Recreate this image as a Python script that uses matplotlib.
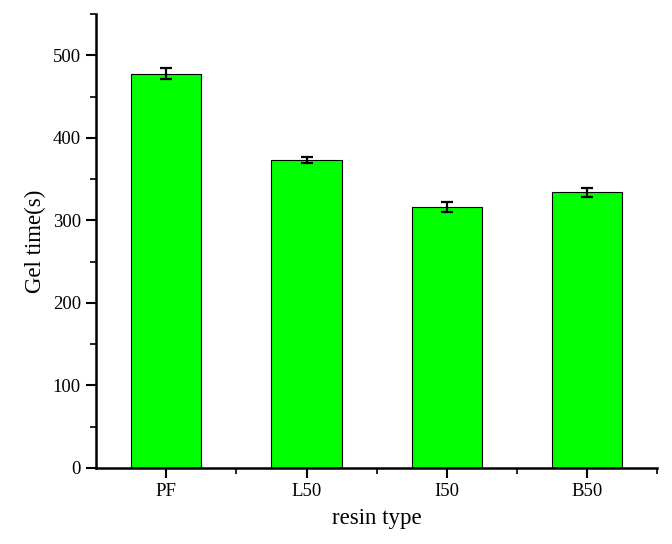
import numpy as np
import matplotlib.pyplot as plt
from matplotlib.ticker import MultipleLocator, FixedLocator

plt.rcParams.update({
    "font.family": "Liberation Serif",
    "font.size": 13,
})

# ---------- data ----------
resins = ["PF", "L50", "I50", "B50"]
gel_time = [478, 373, 316, 334]
gel_err = [7, 4, 6, 5.5]

# ---------- figure ----------
fig = plt.figure(figsize=(6.72, 5.44), dpi=100)
ax = fig.add_axes([0.143, 0.14, 0.835, 0.834])

x = np.arange(len(resins))
ax.bar(x, gel_time, width=0.5, color="#00ff00", edgecolor="black", linewidth=0.8,
       yerr=gel_err, capsize=4.5, error_kw=dict(elinewidth=1.6, capthick=1.6, ecolor="black"))

ax.set_xlim(-0.5, 3.5)
ax.set_ylim(0, 550)
ax.set_xticks(x)
ax.set_xticklabels(resins)
ax.xaxis.set_minor_locator(FixedLocator([0.5, 1.5, 2.5, 3.5]))
ax.yaxis.set_major_locator(MultipleLocator(100))
ax.yaxis.set_minor_locator(MultipleLocator(50))

for s in ["top", "right"]:
    ax.spines[s].set_visible(False)
for s in ["left", "bottom"]:
    ax.spines[s].set_linewidth(1.8)

ax.tick_params(which="major", direction="out", length=7, width=1.5, labelsize=13.5, pad=4)
ax.tick_params(which="minor", direction="out", length=4, width=1.2)

ax.set_xlabel("resin type", fontsize=16.5, labelpad=6)
ax.set_ylabel("Gel time(s)", fontsize=16.5, labelpad=5)

fig.savefig("out.png", dpi=100)
